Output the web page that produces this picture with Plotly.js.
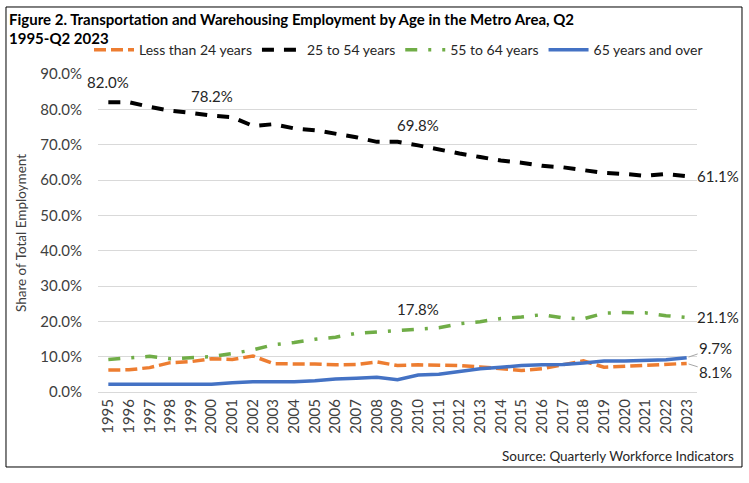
<!DOCTYPE html>
<html>
<head>
<meta charset="utf-8">
<script src="https://cdn.plot.ly/plotly-3.0.1.min.js"></script>
<style>
  html, body { margin: 0; padding: 0; background: #ffffff; }
  #chart { width: 749px; height: 483px; }
</style>
</head>
<body>
<div id="chart"></div>
<script>
// ---- Data (percent of total employment, Q2 of each year) ----
const years = ["1995","1996","1997","1998","1999","2000","2001","2002","2003","2004",
               "2005","2006","2007","2008","2009","2010","2011","2012","2013","2014",
               "2015","2016","2017","2018","2019","2020","2021","2022","2023"];

const lessThan24 = [6.2, 6.3, 6.9, 8.3, 8.6, 9.4, 9.2, 10.2, 8.0, 8.0,
                    7.9, 7.7, 7.8, 8.5, 7.5, 7.7, 7.7, 7.5, 7.1, 6.6,
                    6.1, 6.6, 7.7, 8.8, 7.0, 7.3, 7.7, 8.0, 8.1];

const age25to54 = [82.0, 82.0, 80.7, 79.6, 79.0, 78.2, 77.8, 75.3, 75.8, 74.6,
                   74.1, 73.2, 72.1, 70.8, 70.8, 69.8, 68.6, 67.5, 66.5, 65.5,
                   64.9, 64.0, 63.6, 62.7, 62.0, 61.7, 61.2, 61.7, 61.1];

const age55to64 = [9.2, 9.7, 10.1, 9.4, 9.7, 10.0, 10.9, 11.9, 13.4, 14.0,
                   14.9, 15.5, 16.6, 17.0, 17.6, 17.8, 18.2, 19.3, 19.9, 20.8,
                   21.2, 21.9, 21.0, 20.7, 22.3, 22.5, 22.4, 21.6, 21.1];

const age65plus = [2.2, 2.2, 2.2, 2.2, 2.2, 2.2, 2.6, 2.9, 2.9, 2.9,
                   3.2, 3.7, 3.9, 4.2, 3.5, 4.8, 5.0, 5.9, 6.6, 7.0,
                   7.5, 7.7, 7.8, 8.2, 8.8, 8.8, 8.9, 9.1, 9.7];

const seriesNames = ["Less than 24 years", "25 to 54 years", "55 to 64 years", "65 years and over"];

// indices of labelled points
const labelAbove25to54 = [0, 5, 15];
const labelAbove55to64 = [15];
const lastIdx = years.length - 1;

// ---- Traces ----
const FONT = "Lato, 'Open Sans', 'Liberation Sans', sans-serif";
const txtColor = "#404040";

const traces = [
  { x: years, y: lessThan24, name: seriesNames[0], type: "scatter", mode: "lines",
    line: { color: "#ED7D31", width: 3.5, dash: "12px,5px" } },
  { x: years, y: age25to54, name: seriesNames[1], type: "scatter", mode: "lines",
    line: { color: "#000000", width: 4, dash: "12px,10px" } },
  { x: years, y: age55to64, name: seriesNames[2], type: "scatter", mode: "lines",
    line: { color: "#70AD47", width: 3.5, dash: "12px,11px,3px,11px" } },
  { x: years, y: age65plus, name: seriesNames[3], type: "scatter", mode: "lines",
    line: { color: "#4472C4", width: 3.5 } }
];

const fmt = v => v.toFixed(1) + "%";
const annFont = { family: FONT, size: 15, color: "#262626" };

const annotations = [];
// category axis: annotation x given as the category's index
labelAbove25to54.forEach(i => annotations.push({
  x: i, y: age25to54[i], text: fmt(age25to54[i]), showarrow: false,
  xanchor: "center", yanchor: "middle", yshift: 20, font: annFont
}));
labelAbove55to64.forEach(i => annotations.push({
  x: i, y: age55to64[i], text: fmt(age55to64[i]), showarrow: false,
  xanchor: "center", yanchor: "middle", yshift: 20, font: annFont
}));
// end-of-line labels
annotations.push({ x: lastIdx, y: age25to54[lastIdx], text: fmt(age25to54[lastIdx]),
  showarrow: false, xanchor: "left", yanchor: "middle", xshift: 8, font: annFont });
annotations.push({ x: lastIdx, y: age55to64[lastIdx], text: fmt(age55to64[lastIdx]),
  showarrow: false, xanchor: "left", yanchor: "middle", xshift: 8, font: annFont });
annotations.push({ x: lastIdx, y: age65plus[lastIdx], text: fmt(age65plus[lastIdx]),
  showarrow: true, arrowhead: 0, arrowwidth: 1, arrowcolor: "#a6a6a6", standoff: 2,
  ax: 29, ay: -10, font: annFont });
annotations.push({ x: lastIdx, y: lessThan24[lastIdx], text: fmt(lessThan24[lastIdx]),
  showarrow: true, arrowhead: 0, arrowwidth: 1, arrowcolor: "#a6a6a6", standoff: 2,
  ax: 29, ay: 9, font: annFont });
// source note
annotations.push({ xref: "paper", yref: "paper", x: 1.0651, y: -0.2013,
  xanchor: "right", yanchor: "middle", showarrow: false,
  text: "Source: Quarterly Workforce Indicators", font: { family: FONT, size: 13.5, color: "#262626" } });

const layout = {
  width: 749, height: 483,
  margin: { l: 98, r: 52, t: 74, b: 91, pad: 0 },
  paper_bgcolor: "#ffffff", plot_bgcolor: "#ffffff",
  font: { family: FONT, size: 13, color: txtColor },
  title: {
    text: "<b>Figure 2. Transportation and Warehousing Employment by Age in the Metro Area, Q2<br>1995-Q2 2023</b>",
    x: 0.012, xanchor: "left", xref: "container",
    y: 0.949, yanchor: "top", yref: "container",
    font: { family: FONT, size: 15, color: "#000000" }
  },
  showlegend: true,
  legend: {
    orientation: "h", x: -0.015, xanchor: "left", y: 1.075, yanchor: "middle",
    font: { family: FONT, size: 14, color: "#262626" },
    bgcolor: "rgba(0,0,0,0)", traceorder: "normal", itemwidth: 40
  },
  xaxis: {
    type: "category", range: [-0.5, years.length - 0.5],
    showgrid: false, zeroline: false,
    showline: true, linecolor: "#d9d9d9", linewidth: 1,
    ticks: "", tickangle: -90,
    tickfont: { family: FONT, size: 15, color: txtColor },
    fixedrange: true
  },
  yaxis: {
    range: [0, 90], dtick: 10, tickformat: ".1f", ticksuffix: "%",
    showgrid: true, gridcolor: "#d9d9d9", gridwidth: 1,
    zeroline: false, showline: false, ticks: "",
    ticklabelstandoff: 15,
    tickfont: { family: FONT, size: 15, color: txtColor },
    title: { text: "Share of Total Employment", standoff: 10,
             font: { family: FONT, size: 13.5, color: txtColor } },
    fixedrange: true
  },
  annotations: annotations,
  shapes: [{
    type: "rect", xref: "paper", yref: "paper",
    x0: -0.1536, x1: 1.0751, y0: -0.2358, y1: 1.2107,
    line: { color: "#000000", width: 1 }, fillcolor: "rgba(0,0,0,0)", layer: "below"
  }]
};

Plotly.newPlot("chart", traces, layout, { displayModeBar: false, staticPlot: true });
</script>
</body>
</html>
